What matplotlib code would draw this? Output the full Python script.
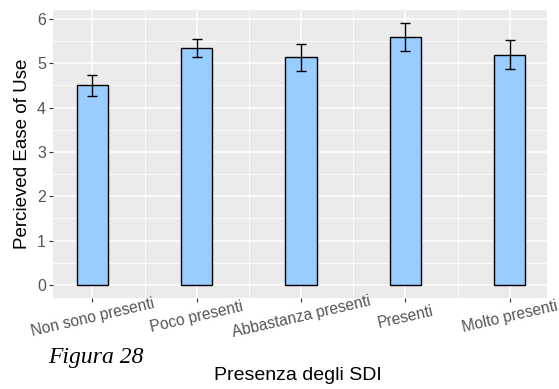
import matplotlib
matplotlib.use("Agg")
import matplotlib.pyplot as plt
import numpy as np
from matplotlib.ticker import MultipleLocator

categories = ["Non sono presenti", "Poco presenti", "Abbastanza presenti", "Presenti", "Molto presenti"]
means = [4.50, 5.34, 5.13, 5.59, 5.19]
errors = [0.23, 0.20, 0.30, 0.31, 0.33]
y_ticks = [0, 1, 2, 3, 4, 5, 6]

fig = plt.figure(figsize=(5.59, 3.89), dpi=100)
ax = fig.add_axes([53/559, 1-297.7/389, (547-53)/559, (297.7-10)/389])

x = np.arange(1, len(categories)+1)
ax.set_facecolor("#EBEBEB")
ax.set_axisbelow(True)
ax.xaxis.set_minor_locator(MultipleLocator(0.5))
ax.yaxis.set_minor_locator(MultipleLocator(0.5))
ax.grid(which="major", color="white", linewidth=1.1)
ax.grid(which="minor", color="white", linewidth=0.55)

ax.bar(x, means, width=0.3, color="#99CCFF", edgecolor="black", linewidth=1.0, zorder=2)
ax.errorbar(x, means, yerr=errors, fmt="none", ecolor="black", elinewidth=1.0,
            capsize=3.6, capthick=1.0, zorder=3)

ax.set_xlim(0.623, 5.357)
ax.set_ylim(-0.29, 6.2)
ax.set_xticks(x)
ax.set_xticklabels(categories, rotation=13, fontsize=11.2,
                   color="#555555", family="Liberation Sans")
for lab in ax.get_xticklabels():
    lab.set_rotation_mode("anchor")
    lab.set_ha("center")
    lab.set_va("center")
ax.set_yticks(y_ticks)
ax.set_yticklabels([str(v) for v in y_ticks], fontsize=11.5, color="#555555",
                   family="Liberation Sans")
ax.tick_params(which="major", length=3, width=0.8, color="#333333")
ax.tick_params(axis="y", pad=2)
ax.tick_params(axis="x", pad=11)
ax.tick_params(which="minor", length=0)
for s in ax.spines.values():
    s.set_visible(False)

ax.set_ylabel("Percieved Ease of Use", fontsize=13.5, family="Liberation Sans", labelpad=4)
fig.text(298/559, 1-376/389, "Presenza degli SDI", fontsize=14, family="Liberation Sans",
         ha="center", va="center")
fig.text(48/559, 1-363/389, "Figura 28", fontsize=17, family="Liberation Serif",
         style="italic", ha="left", va="baseline")

fig.savefig("out.png", dpi=100)
